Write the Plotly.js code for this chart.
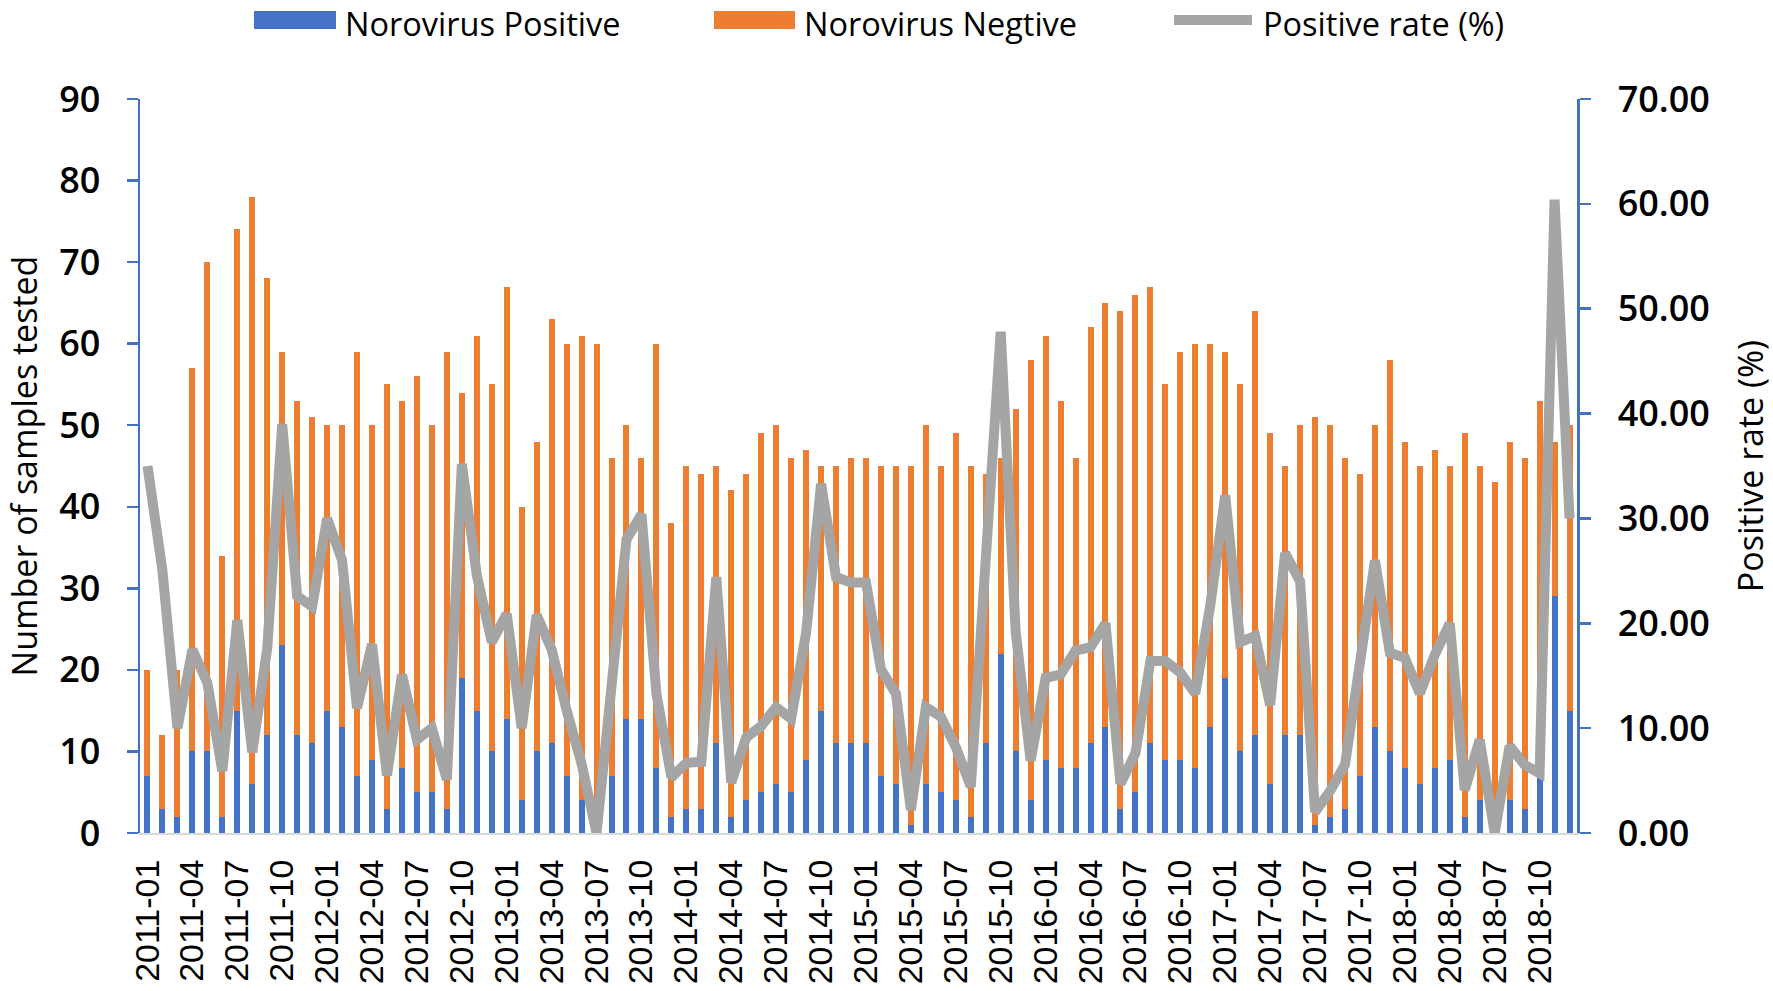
<!DOCTYPE html>
<html>
<head>
<meta charset="utf-8">
<script src="https://cdn.plot.ly/plotly-3.0.1.min.js"></script>
<style>
  html, body { margin: 0; padding: 0; background: #ffffff; }
  #chart { width: 1773px; height: 991px; }
</style>
</head>
<body>
<div id="chart"></div>
<script>
// ---- Data ----
const months = [
  "2011-01","2011-02","2011-03","2011-04","2011-05","2011-06","2011-07","2011-08","2011-09","2011-10","2011-11","2011-12",
  "2012-01","2012-02","2012-03","2012-04","2012-05","2012-06","2012-07","2012-08","2012-09","2012-10","2012-11","2012-12",
  "2013-01","2013-02","2013-03","2013-04","2013-05","2013-06","2013-07","2013-08","2013-09","2013-10","2013-11","2013-12",
  "2014-01","2014-02","2014-03","2014-04","2014-05","2014-06","2014-07","2014-08","2014-09","2014-10","2014-11","2014-12",
  "2015-01","2015-02","2015-03","2015-04","2015-05","2015-06","2015-07","2015-08","2015-09","2015-10","2015-11","2015-12",
  "2016-01","2016-02","2016-03","2016-04","2016-05","2016-06","2016-07","2016-08","2016-09","2016-10","2016-11","2016-12",
  "2017-01","2017-02","2017-03","2017-04","2017-05","2017-06","2017-07","2017-08","2017-09","2017-10","2017-11","2017-12",
  "2018-01","2018-02","2018-03","2018-04","2018-05","2018-06","2018-07","2018-08","2018-09","2018-10","2018-11","2018-12"
];

const positive = [
  7,3,2,10,10,2,15,6,12,23,12,11,
  15,13,7,9,3,8,5,5,3,19,15,10,
  14,4,10,11,7,4,0,7,14,14,8,2,
  3,3,11,2,4,5,6,5,9,15,11,11,
  11,7,6,1,6,5,4,2,11,22,10,4,
  9,8,8,11,13,3,5,11,9,9,8,13,
  19,10,12,6,12,12,1,2,3,7,13,10,
  8,6,8,9,2,4,0,4,3,7,29,15
];

const negative = [
  13,9,18,47,60,32,59,72,56,36,41,40,
  35,37,52,41,52,45,51,45,56,35,46,45,
  53,36,38,52,53,57,60,39,36,32,52,36,
  42,41,34,40,40,44,44,41,38,30,34,35,
  35,38,39,44,44,40,45,43,33,24,42,54,
  52,45,38,51,52,61,61,56,46,50,52,47,
  40,45,52,43,33,38,50,48,43,37,37,48,
  40,39,39,36,47,41,43,44,43,46,19,35
];

const positiveRate = [
  35.0,25.0,10.0,17.5,14.3,5.9,20.3,7.7,17.6,39.0,22.6,21.6,
  30.0,26.0,11.9,18.0,5.5,15.1,8.9,10.0,5.1,35.2,24.6,18.2,
  20.9,10.0,20.8,17.5,11.7,6.6,0.0,15.2,28.0,30.4,13.3,5.3,
  6.7,6.8,24.4,4.8,9.1,10.2,12.0,10.9,19.1,33.3,24.4,23.9,
  23.9,15.6,13.3,2.2,12.0,11.1,8.2,4.4,25.0,47.8,19.2,6.9,
  14.8,15.1,17.4,17.7,20.0,4.7,7.6,16.4,16.4,15.3,13.3,21.7,
  32.2,18.2,18.8,12.2,26.7,24.0,2.0,4.0,6.5,15.9,26.0,17.2,
  16.7,13.3,17.0,20.0,4.1,8.9,0.0,8.3,6.5,5.7,60.4,30.0
];

const seriesNames = ["Norovirus Positive", "Norovirus Negtive", "Positive rate (%)"];
const leftTitle = "Number of samples tested";
const rightTitle = "Positive rate (%)";

// ---- Styling ----
const BLUE = "#4472C4", ORANGE = "#ED7D31", GRAY = "#A5A5A5";
const W = 1773, H = 991;
const M = { l: 140, r: 196, t: 99, b: 158 };
const PW = W - M.l - M.r, PH = H - M.t - M.b;
const px2x = px => (px - M.l) / PW;
const py2y = py => (H - M.b - py) / PH;

const traces = [
  { type: "bar", name: seriesNames[0], x: months, y: positive, marker: { color: BLUE }, hoverinfo: "x+y+name" },
  { type: "bar", name: seriesNames[1], x: months, y: negative, marker: { color: ORANGE }, hoverinfo: "x+y+name" },
  { type: "scatter", mode: "lines", name: seriesNames[2], x: months, y: positiveRate, yaxis: "y2",
    line: { color: GRAY, width: 10 } }
];

const tickFontNum = { family: "Open Sans, Noto Sans, sans-serif", size: 36, color: "#000", weight: 600 };
const titleFont = { family: "Open Sans, Noto Sans, sans-serif", size: 34, color: "#000" };

// custom legend (wide symbols as in reference)
const legY = py2y(20);
const textY = py2y(23);
const shapes = [
  { type: "rect", xref: "paper", yref: "paper", x0: px2x(254), x1: px2x(336), y0: py2y(29), y1: py2y(11),
    fillcolor: BLUE, line: { width: 0 } },
  { type: "rect", xref: "paper", yref: "paper", x0: px2x(714), x1: px2x(795), y0: py2y(29), y1: py2y(11),
    fillcolor: ORANGE, line: { width: 0 } },
  { type: "line", xref: "paper", yref: "paper", x0: px2x(1174), x1: px2x(1252), y0: legY, y1: legY,
    line: { color: GRAY, width: 10 } }
];
const legFont = { family: "Open Sans, Noto Sans, sans-serif", size: 32.5, color: "#000" };
const annotations = [
  { xref: "paper", yref: "paper", x: px2x(344), y: textY, xanchor: "left", yanchor: "middle", borderpad: 0, text: seriesNames[0], showarrow: false, font: legFont },
  { xref: "paper", yref: "paper", x: px2x(803), y: textY, xanchor: "left", yanchor: "middle", borderpad: 0, text: seriesNames[1], showarrow: false, font: legFont },
  { xref: "paper", yref: "paper", x: px2x(1262), y: textY, xanchor: "left", yanchor: "middle", borderpad: 0, text: seriesNames[2], showarrow: false, font: legFont }
];

const layout = {
  width: W, height: H,
  margin: M,
  paper_bgcolor: "#fff", plot_bgcolor: "#fff",
  barmode: "stack",
  bargap: 0.6,
  showlegend: false,
  shapes, annotations,
  xaxis: {
    type: "category",
    range: [-0.5, months.length - 0.5],
    showline: true, linecolor: "#D9D9D9", linewidth: 2,
    showgrid: false, zeroline: false,
    ticks: "", dtick: 3, tick0: 0,
    tickangle: -90,
    ticklabelstandoff: 11,
    tickfont: { family: "Liberation Sans, Arial, sans-serif", size: 34, color: "#000" }
  },
  yaxis: {
    range: [0, 90], dtick: 10,
    showline: true, linecolor: BLUE, linewidth: 2.5,
    ticks: "outside", ticklen: 11, tickwidth: 2.5, tickcolor: BLUE,
    showgrid: false, zeroline: false,
    ticklabelstandoff: 19,
    tickfont: tickFontNum,
    title: { text: leftTitle, font: titleFont, standoff: 11 }
  },
  yaxis2: {
    overlaying: "y", side: "right",
    range: [0, 70], dtick: 10, tickformat: ".2f",
    showline: true, linecolor: BLUE, linewidth: 2.5,
    ticks: "outside", ticklen: 11, tickwidth: 2.5, tickcolor: BLUE,
    showgrid: false, zeroline: false,
    ticklabelstandoff: 20,
    tickfont: tickFontNum,
    title: { text: rightTitle, font: titleFont, standoff: 32 }
  }
};

Plotly.newPlot("chart", traces, layout, { displayModeBar: false, staticPlot: true });
</script>
</body>
</html>
